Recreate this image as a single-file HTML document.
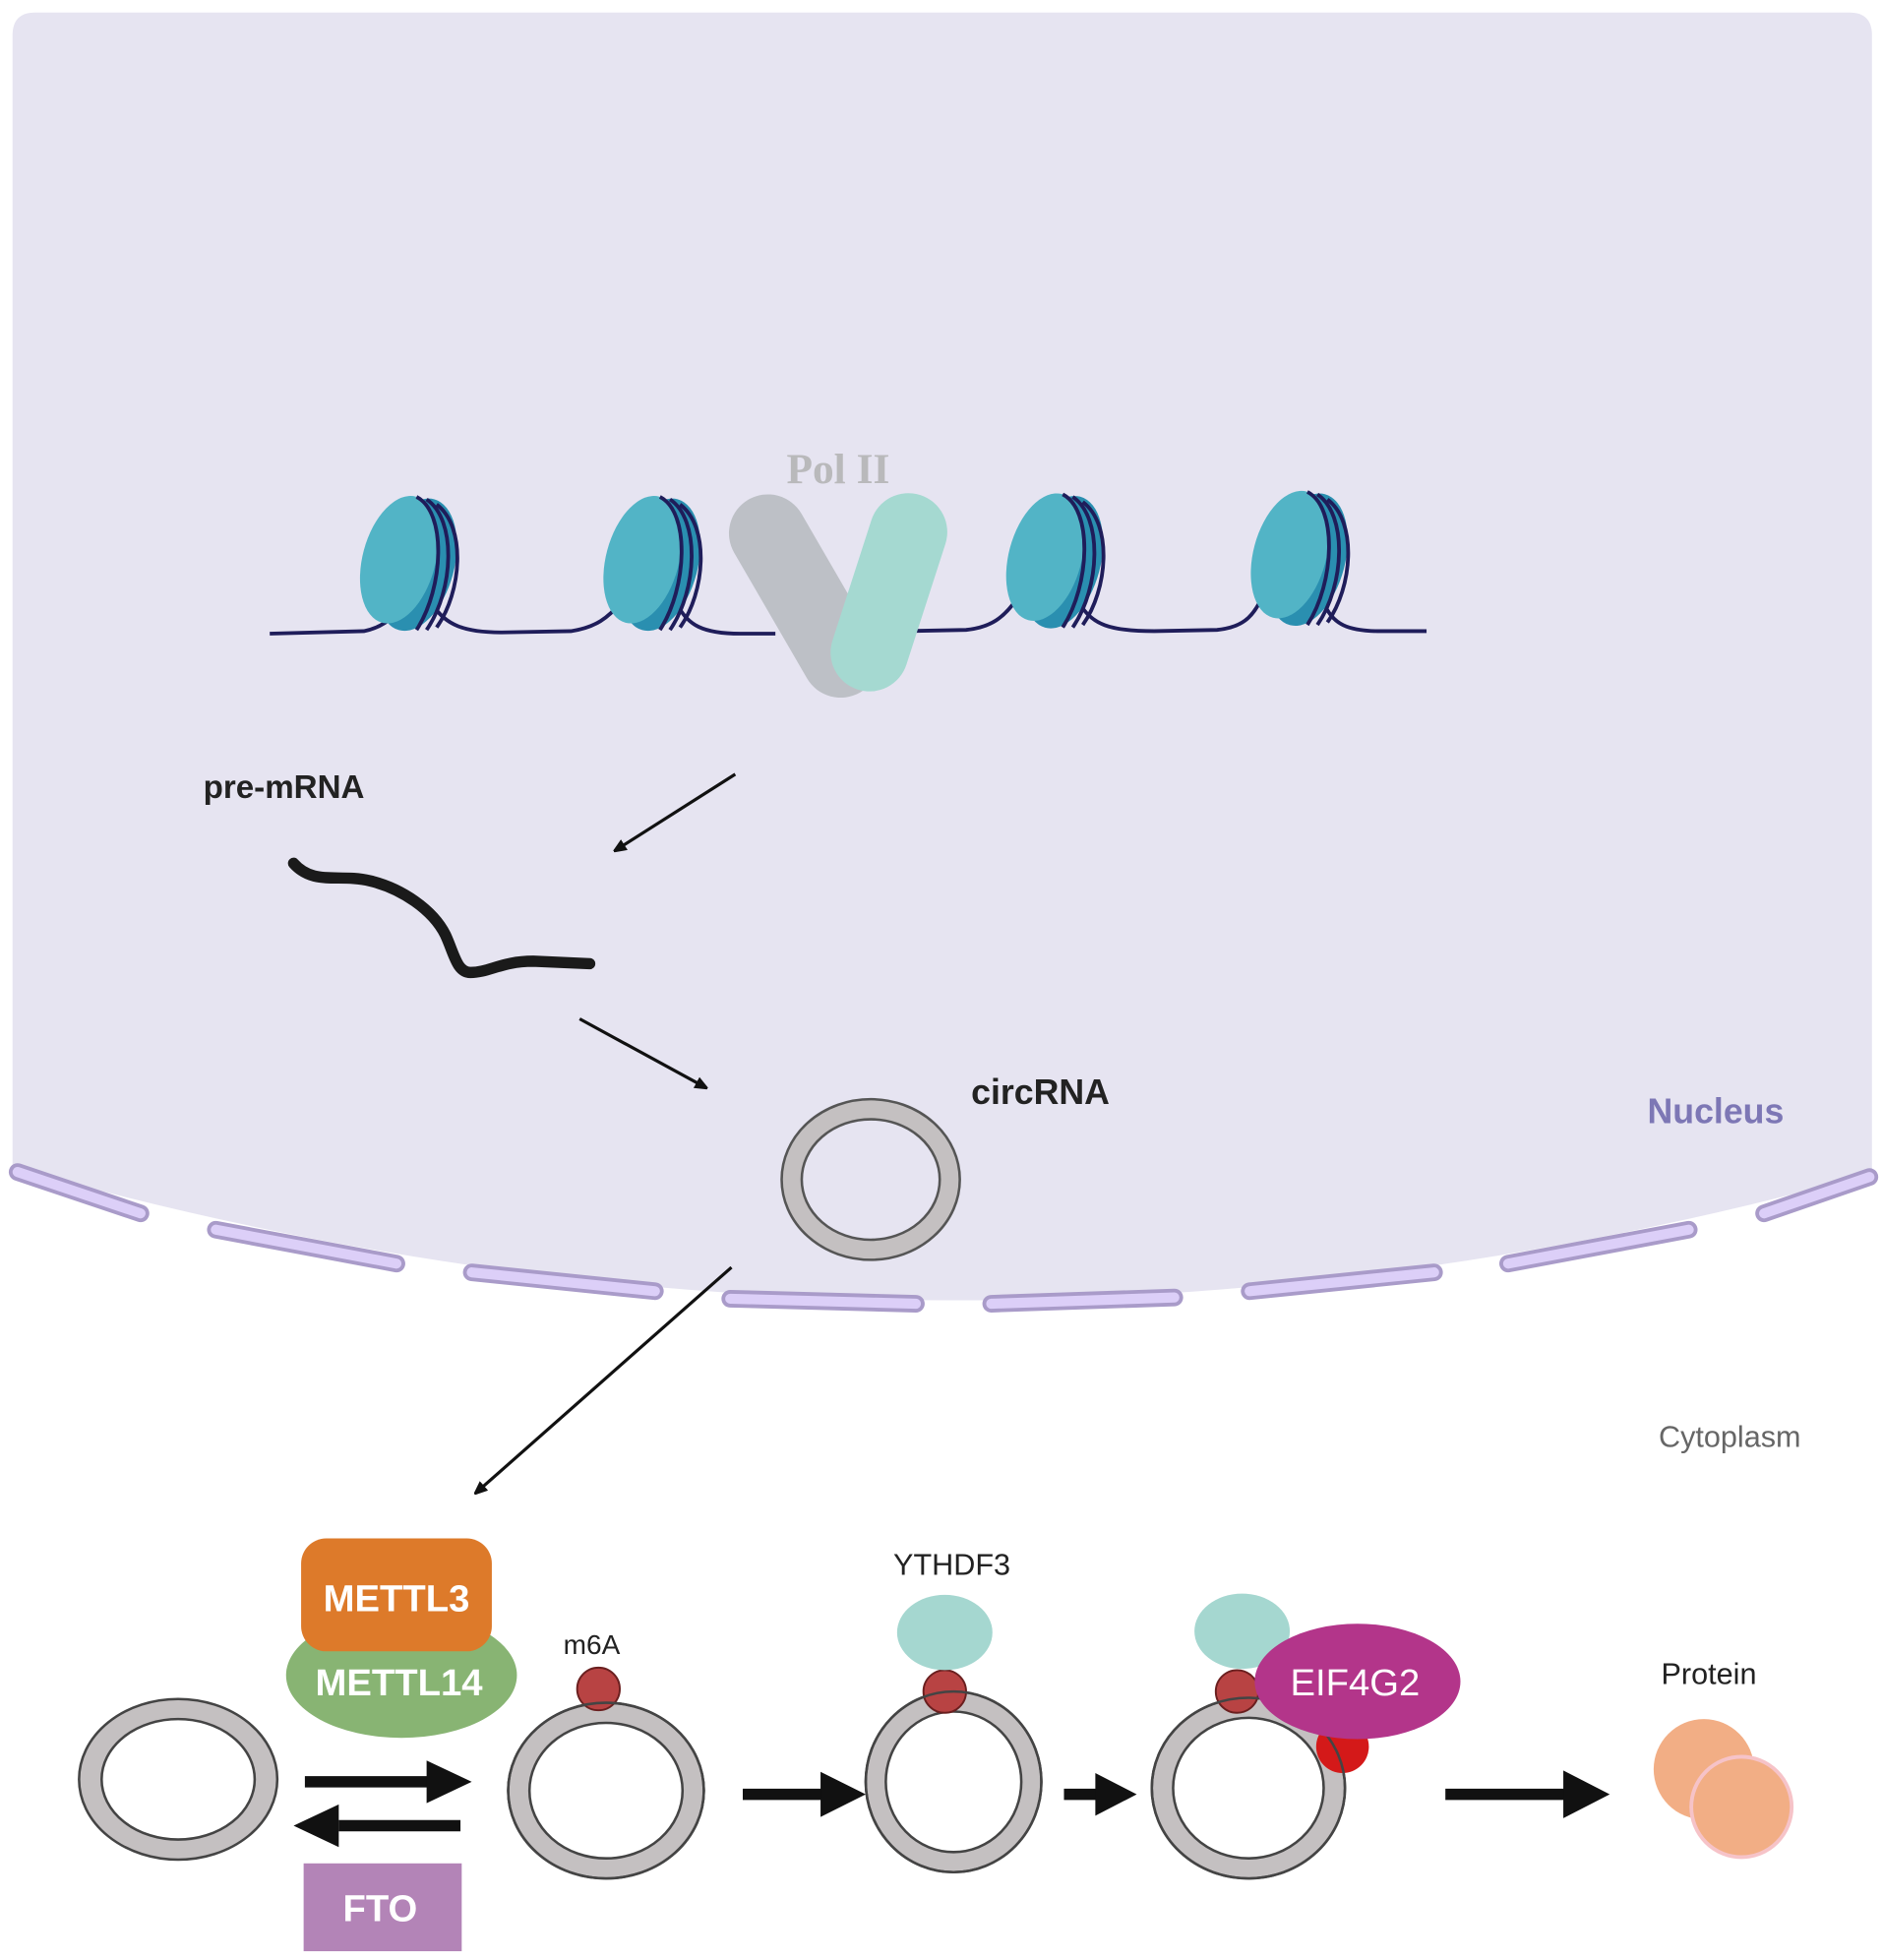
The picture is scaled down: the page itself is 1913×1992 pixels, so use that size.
<!DOCTYPE html>
<html><head><meta charset="utf-8"><style>
html,body{margin:0;padding:0;background:#fff;}
svg{display:block;}
text{font-family:"Liberation Sans",sans-serif;}
</style></head><body>
<svg width="1913" height="1992" viewBox="0 0 1500 1562" preserveAspectRatio="none" xmlns="http://www.w3.org/2000/svg">
<defs>
<marker id="ah" markerWidth="10" markerHeight="10" refX="9" refY="5" orient="auto" markerUnits="userSpaceOnUse"><path d="M0,0 L12,5 L0,10 z" fill="#111"/></marker>
<g id="nuc">
<ellipse cx="14" cy="2" rx="30" ry="54" fill="#2a8fb0" transform="rotate(15 14 2)"/>
<ellipse cx="0" cy="-2" rx="29" ry="52" fill="#52b4c6" transform="rotate(15 0 -2)"/>
<path d="M14,-52 C38,-40 36,20 14,54" fill="none" stroke="#1f1d5a" stroke-width="3"/>
<path d="M22,-50 C46,-34 44,22 22,54" fill="none" stroke="#1f1d5a" stroke-width="3"/>
<path d="M30,-46 C54,-28 50,24 30,52" fill="none" stroke="#1f1d5a" stroke-width="3"/>
</g>
</defs>
<path d="M10,28 Q10,10 28,10 H1474 Q1492,10 1492,28 V935 Q750,1140 10,930 Z" fill="#e6e4f1"/>
<g stroke-linecap="round" fill="none">
<g stroke="#a99bc9" stroke-width="14">
<path d="M14,934 L112,967"/><path d="M172,980 L316,1007"/><path d="M376,1014 L522,1029"/><path d="M582,1035 L730,1039"/><path d="M790,1039 L936,1034"/><path d="M996,1029 L1143,1014"/><path d="M1202,1007 L1346,980"/><path d="M1406,967 L1490,938"/>
</g>
<g stroke="#dccff8" stroke-width="8">
<path d="M14,934 L112,967"/><path d="M172,980 L316,1007"/><path d="M376,1014 L522,1029"/><path d="M582,1035 L730,1039"/><path d="M790,1039 L936,1034"/><path d="M996,1029 L1143,1014"/><path d="M1202,1007 L1346,980"/><path d="M1406,967 L1490,938"/>
</g>
</g>
<path d="M215,505 L290,503 C305,500 315,492 322,480 M345,482 C355,498 370,504 400,504 L455,503 C475,500 485,492 495,480 M540,482 C548,498 560,505 590,505 L618,505 M720,503 L770,502 C790,500 800,492 810,478 M860,480 C870,498 885,503 920,503 L970,502 C990,500 998,492 1005,478 M1055,480 C1062,498 1075,503 1100,503 L1137,503" fill="none" stroke="#1f1d5a" stroke-width="3"/>
<use href="#nuc" x="318" y="448"/>
<use href="#nuc" x="512" y="448"/>
<use href="#nuc" x="833" y="446"/>
<use href="#nuc" x="1028" y="444"/>
<path d="M612,425 L670,525" stroke="#bdc0c6" stroke-width="62" stroke-linecap="round"/>
<path d="M724,424 L693,520" stroke="#a5d9d1" stroke-width="62" stroke-linecap="round"/>
<text x="668" y="385" font-weight="bold" font-size="34" fill="#b9b9bb" text-anchor="middle" style="font-family:'Liberation Serif',serif">Pol II</text>
<text x="162" y="636" font-weight="bold" font-size="26" fill="#222">pre-mRNA</text>
<path d="M234,688 C250,706 270,696 295,702 C320,708 345,725 355,745 C362,760 364,775 375,775 C390,775 400,766 425,766 L470,768" fill="none" stroke="#1a1a1a" stroke-width="9" stroke-linecap="round"/>
<g stroke="#111" stroke-width="2.5" fill="none">
<path d="M586,617 L490,678" marker-end="url(#ah)"/>
<path d="M462,812 L563,867" marker-end="url(#ah)"/>
<path d="M583,1010 L379,1190" marker-end="url(#ah)"/>
</g>
<ellipse cx="694" cy="940" rx="71" ry="64" fill="#c4c0c1" stroke="#555" stroke-width="2"/>
<ellipse cx="694" cy="940" rx="55" ry="48" fill="#e6e4f1" stroke="#555" stroke-width="2"/>
<text x="774" y="880" font-weight="bold" font-size="28" fill="#222">circRNA</text>
<text x="1313" y="895" font-weight="bold" font-size="28" fill="#7d77b5">Nucleus</text>
<text x="1322" y="1153" font-size="24" fill="#666">Cytoplasm</text>
<g fill="#c4c0c1" stroke="#444" stroke-width="2">
<ellipse cx="142" cy="1418" rx="79" ry="64"/>
<ellipse cx="483" cy="1427" rx="78" ry="70"/>
<ellipse cx="760" cy="1420" rx="70" ry="72"/>
<ellipse cx="995" cy="1425" rx="77" ry="72"/>
</g>
<g fill="#fff" stroke="#444" stroke-width="2">
<ellipse cx="142" cy="1418" rx="61" ry="48"/>
<ellipse cx="483" cy="1427" rx="61" ry="54"/>
<ellipse cx="760" cy="1420" rx="54" ry="56"/>
<ellipse cx="995" cy="1425" rx="60" ry="56"/>
</g>
<ellipse cx="320" cy="1335" rx="92" ry="50" fill="#88b473"/>
<rect x="240" y="1226" width="152" height="90" rx="20" fill="#dd7a2a"/>
<text x="316" y="1284" font-weight="bold" font-size="30" fill="#fff" text-anchor="middle">METTL3</text>
<text x="318" y="1351" font-weight="bold" font-size="30" fill="#fff" text-anchor="middle">METTL14</text>
<g stroke="#111" stroke-width="9">
<path d="M243,1420 L342,1420"/>
<path d="M367,1455 L270,1455"/>
</g>
<path d="M376,1420 L340,1403 L340,1437 z" fill="#111"/>
<path d="M234,1455 L270,1438 L270,1472 z" fill="#111"/>
<rect x="242" y="1485" width="126" height="70" fill="#b384b7"/>
<text x="303" y="1531" font-weight="bold" font-size="30" fill="#fff" text-anchor="middle">FTO</text>
<text x="449" y="1318" font-size="22" fill="#222">m6A</text>
<circle cx="477" cy="1346" r="17" fill="#b84343" stroke="#6a1f1f" stroke-width="1.5"/>
<ellipse cx="483" cy="1427" rx="78" ry="70" fill="none" stroke="#444" stroke-width="2"/>
<path d="M592,1430 L655,1430" stroke="#111" stroke-width="9"/><path d="M690,1430 L654,1412 L654,1448 z" fill="#111"/>
<path d="M848,1430 L875,1430" stroke="#111" stroke-width="9"/><path d="M906,1430 L873,1413 L873,1447 z" fill="#111"/>
<path d="M1152,1430 L1248,1430" stroke="#111" stroke-width="9"/><path d="M1283,1430 L1246,1411 L1246,1449 z" fill="#111"/>
<text x="712" y="1255" font-size="24" fill="#222">YTHDF3</text>
<circle cx="753" cy="1348" r="17" fill="#b84343" stroke="#6a1f1f" stroke-width="1.5"/>
<ellipse cx="753" cy="1301" rx="38" ry="30" fill="#a5d7d0"/>
<ellipse cx="760" cy="1420" rx="70" ry="72" fill="none" stroke="#444" stroke-width="2"/>
<circle cx="986" cy="1348" r="17" fill="#b84343" stroke="#6a1f1f" stroke-width="1.5"/>
<ellipse cx="990" cy="1300" rx="38" ry="30" fill="#a5d7d0"/>
<circle cx="1070" cy="1392" r="21" fill="#d41919"/>
<ellipse cx="995" cy="1425" rx="77" ry="72" fill="none" stroke="#444" stroke-width="2"/>
<ellipse cx="1082" cy="1340" rx="82" ry="46" fill="#b3358a"/>
<text x="1080" y="1351" font-size="30" fill="#fff" text-anchor="middle">EIF4G2</text>
<text x="1324" y="1342" font-size="24" fill="#222">Protein</text>
<circle cx="1358" cy="1410" r="40" fill="#f2ae85"/>
<circle cx="1388" cy="1440" r="40" fill="#f2ae85" stroke="#f6c3c8" stroke-width="3"/>
</svg>
</body></html>
